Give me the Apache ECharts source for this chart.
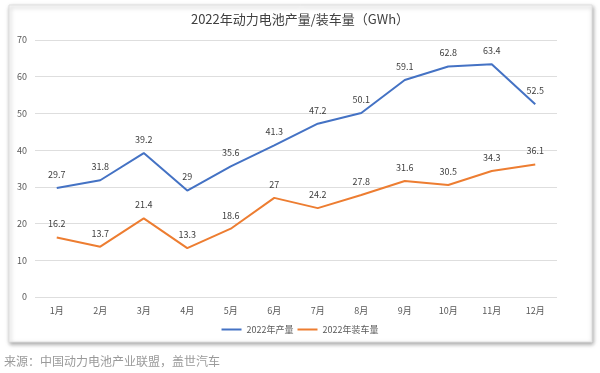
<!DOCTYPE html>
<html><head><meta charset="utf-8">
<script src="https://cdn.jsdelivr.net/npm/echarts@6/dist/echarts.min.js"></script>
<style>html,body{margin:0;padding:0;background:#fff}#c{width:600px;height:373px}</style>
</head><body><div id="c"></div>
<script>
const categories = ['1月','2月','3月','4月','5月','6月','7月','8月','9月','10月','11月','12月'];
const production = [29.7,31.8,39.2,29,35.6,41.3,47.2,50.1,59.1,62.8,63.4,52.5];
const installed = [16.2,13.7,21.4,13.3,18.6,27,24.2,27.8,31.6,30.5,34.3,36.1];
const seriesNames = ['2022年产量','2022年装车量'];
const yTicks = {min:0, max:70, interval:10};

const chart = echarts.init(document.getElementById('c'));
const font = '"Noto Sans CJK SC", sans-serif';
chart.setOption({
  animation:false,
  textStyle:{fontFamily:font},
  graphic:[
    {type:'rect', shape:{x:9,y:5,width:583,height:337}, style:{fill:'#fff', stroke:'#e0e0e0', lineWidth:1, shadowBlur:4, shadowColor:'rgba(0,0,0,0.35)', shadowOffsetX:1, shadowOffsetY:2}, z:-10},
    {type:'text', left:4, top:355, style:{text:'来源：中国动力电池产业联盟，盖世汽车', fill:'#9a9a9a', fontSize:12, fontFamily:font}}
  ],
  title:{text:'2022年动力电池产量/装车量（GWh）', left:'center', top:8, textStyle:{fontSize:13, fontWeight:'normal', color:'#404040', fontFamily:font}},
  legend:{data:seriesNames, bottom:34, itemWidth:20, itemHeight:2, itemGap:4, icon:'rect', textStyle:{fontSize:9, color:'#595959', fontFamily:font}},
  grid:{left:35, right:43, top:40, bottom:76, containLabel:false},
  xAxis:{type:'category', data:categories, boundaryGap:true,
    axisLine:{show:false}, axisTick:{show:false},
    axisLabel:{fontSize:9, color:'#595959', margin:9}},
  yAxis:{type:'value', min:yTicks.min, max:yTicks.max, interval:yTicks.interval,
    axisLabel:{fontSize:9, color:'#595959', margin:8},
    splitLine:{lineStyle:{color:'#dedede', width:1}}},
  series:[
    {name:seriesNames[0], type:'line', data:production, showSymbol:true, symbol:'circle', symbolSize:0,
      lineStyle:{color:'#4472C4', width:2}, itemStyle:{color:'#4472C4'},
      label:{show:true, position:'top', distance:9, fontSize:9, color:'#404040'}},
    {name:seriesNames[1], type:'line', data:installed, showSymbol:true, symbol:'circle', symbolSize:0,
      lineStyle:{color:'#ED7D31', width:2}, itemStyle:{color:'#ED7D31'},
      label:{show:true, position:'top', distance:9, fontSize:9, color:'#404040'}}
  ]
});
</script></body></html>
